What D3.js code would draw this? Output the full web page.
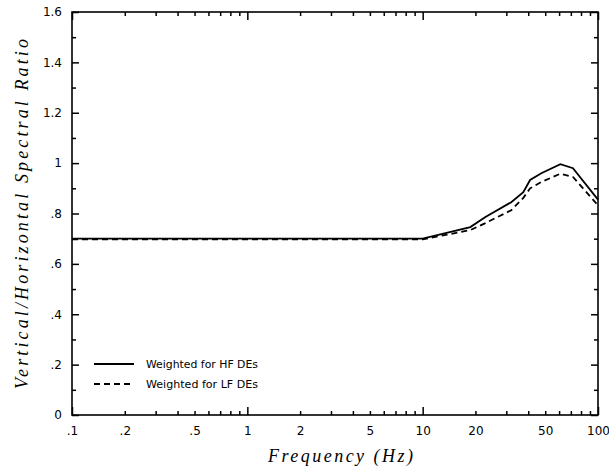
<!DOCTYPE html>
<html><head><meta charset="utf-8">
<script src="https://cdn.jsdelivr.net/npm/d3@7"></script>
<style>body{margin:0;background:#fff}</style>
</head><body>
<svg id="c" width="609" height="474"></svg>
<script>
const freqs = [0.1, 0.5, 1, 5, 10, 13.5, 18.7, 22.8, 32, 37.5, 41, 47.5, 61, 72, 100];
const hfSeries = [0.70, 0.70, 0.70, 0.70, 0.70, 0.722, 0.746, 0.786, 0.845, 0.885, 0.933, 0.96, 0.996, 0.98, 0.855];
const lfSeries = [0.697, 0.697, 0.697, 0.697, 0.697, 0.715, 0.734, 0.762, 0.813, 0.862, 0.90, 0.925, 0.958, 0.945, 0.832];
const xTickVals = [0.1, 0.2, 0.5, 1, 2, 5, 10, 20, 50, 100];
const xTickLabels = [".1", ".2", ".5", "1", "2", "5", "10", "20", "50", "100"];
const yTickVals = [0, 0.2, 0.4, 0.6, 0.8, 1, 1.2, 1.4, 1.6];
const yTickLabels = ["0", ".2", ".4", ".6", ".8", "1", "1.2", "1.4", "1.6"];
const legendLabels = ["Weighted for HF DEs", "Weighted for LF DEs"];

const svg = d3.select("#c");
const L = 72, R = 598, T = 12, B = 415;
const x = d3.scaleLog().domain([0.1, 100]).range([L, R]);
const y = d3.scaleLinear().domain([0, 1.6]).range([B, T]);

const minorX = [];
[0.1, 1, 10].forEach(d => { for (let k = 2; k <= 9; k++) minorX.push(+(d * k).toPrecision(3)); });
const majorX = [0.1, 1, 10, 100];
const minorY = [0.1, 0.3, 0.5, 0.7, 0.9, 1.1, 1.3, 1.5];

const xLab = v => { const i = xTickVals.indexOf(v); return i >= 0 ? xTickLabels[i] : ""; };
const yLab = v => { const i = yTickVals.findIndex(t => Math.abs(t - v) < 1e-9); return i >= 0 ? yTickLabels[i] : ""; };

function styleAxis(sel, labelled) {
  sel.select(".domain").remove();
  sel.selectAll(".tick line").attr("stroke", "#000").attr("stroke-width", 1.5);
  sel.selectAll("text").attr("font-family", "DejaVu Sans, sans-serif").attr("font-size", 12).attr("fill", "#000");
  if (!labelled) sel.selectAll("text").remove();
}

svg.append("g").attr("transform", `translate(0,${B})`)
  .call(d3.axisBottom(x).tickValues(minorX).tickSize(-4).tickFormat(() => "")).call(s => styleAxis(s, false));
svg.append("g").attr("transform", `translate(0,${B})`)
  .call(d3.axisBottom(x).tickValues(xTickVals).tickSize(0).tickPadding(11).tickFormat(xLab)).call(s => styleAxis(s, true));
svg.append("g").attr("transform", `translate(0,${B})`)
  .call(d3.axisBottom(x).tickValues(majorX).tickSize(-8).tickFormat(() => "")).call(s => styleAxis(s, false));
svg.append("g").attr("transform", `translate(0,${T})`)
  .call(d3.axisTop(x).tickValues(minorX).tickSize(-4)).call(s => styleAxis(s, false));
svg.append("g").attr("transform", `translate(0,${T})`)
  .call(d3.axisTop(x).tickValues(majorX).tickSize(-8)).call(s => styleAxis(s, false));
svg.append("g").attr("transform", `translate(${L},0)`)
  .call(d3.axisLeft(y).tickValues(yTickVals).tickSize(-7).tickPadding(10).tickFormat(yLab)).call(s => styleAxis(s, true));
svg.append("g").attr("transform", `translate(${L},0)`)
  .call(d3.axisLeft(y).tickValues(minorY).tickSize(-4)).call(s => styleAxis(s, false));
svg.append("g").attr("transform", `translate(${R},0)`)
  .call(d3.axisRight(y).tickValues(yTickVals).tickSize(-7)).call(s => styleAxis(s, false));
svg.append("g").attr("transform", `translate(${R},0)`)
  .call(d3.axisRight(y).tickValues(minorY).tickSize(-4)).call(s => styleAxis(s, false));

svg.append("rect").attr("x", L).attr("y", T).attr("width", R - L).attr("height", B - T)
  .attr("fill", "none").attr("stroke", "#000").attr("stroke-width", 1.6);

svg.append("text").attr("x", 268).attr("y", 462)
  .attr("font-family", "Liberation Serif, serif").attr("font-style", "italic").attr("font-size", 18)
  .attr("textLength", 145).attr("lengthAdjust", "spacing").text("Frequency (Hz)");
svg.append("text").attr("transform", `translate(28,389) rotate(-90)`)
  .attr("font-family", "Liberation Serif, serif").attr("font-style", "italic").attr("font-size", 18)
  .attr("textLength", 350).attr("lengthAdjust", "spacing").text("Vertical/Horizontal Spectral Ratio");

const line = d3.line().x((d, i) => x(freqs[i])).y(d => y(d));
svg.append("path").datum(hfSeries).attr("d", line).attr("fill", "none").attr("stroke", "#000").attr("stroke-width", 1.8);
svg.append("path").datum(lfSeries).attr("d", line).attr("fill", "none").attr("stroke", "#000").attr("stroke-width", 1.8)
  .attr("stroke-dasharray", "6,4");

const lg = svg.append("g");
[0, 1].forEach(i => {
  const yy = 364 + i * 20;
  lg.append("line").attr("x1", 94).attr("x2", 134).attr("y1", yy).attr("y2", yy)
    .attr("stroke", "#000").attr("stroke-width", 1.8).attr("stroke-dasharray", i ? "6,4" : null);
  lg.append("text").attr("x", 146).attr("y", yy + 4).attr("font-family", "DejaVu Sans, sans-serif")
    .attr("font-size", 11).attr("textLength", 112).attr("lengthAdjust", "spacingAndGlyphs").text(legendLabels[i]);
});
</script>
</body></html>
